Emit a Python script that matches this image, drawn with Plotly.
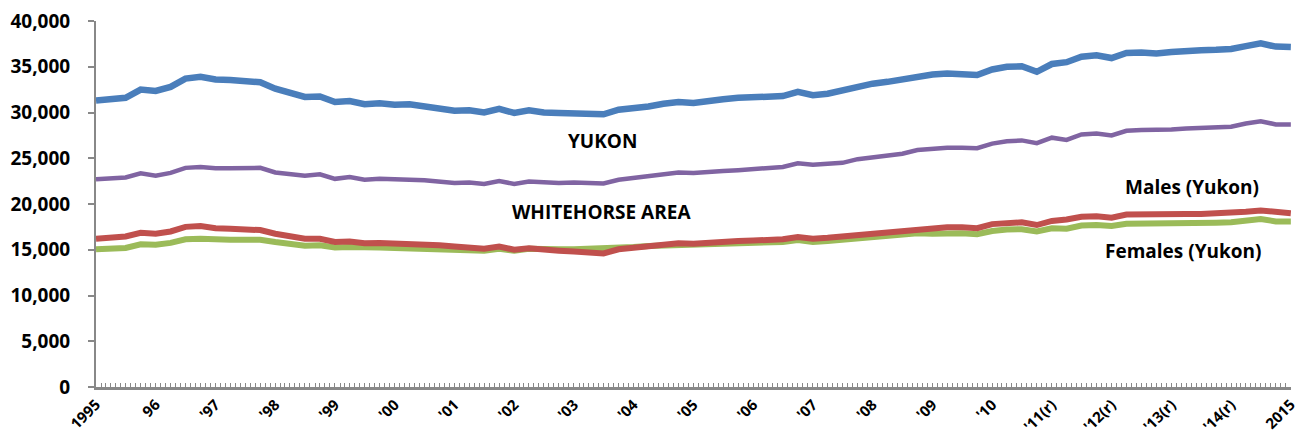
import plotly.graph_objects as go
import pandas as pd

# quarterly readings, Jan 1995 .. Jan 2015
dates = pd.date_range("1995-01-01", "2015-01-01", freq="QS")

yukon = [31300, 31500, 31600, 32500, 32350, 32800, 33700, 33900, 33600, 33550,
         33350, 33300, 32600, 32150, 31700, 31750, 31150, 31250, 30900, 31000,
         30850, 30900, 30650, 30450, 30200, 30250, 30000, 30400, 29950, 30250,
         30000, 29950, 29950, 29900, 29800, 30300, 30450, 30650, 30950, 31150,
         31050, 31300, 31450, 31600, 31650, 31700, 31800, 32250, 31900, 32050,
         32400, 32850, 33150, 33350, 33650, 34000, 34150, 34250, 34200, 34100,
         34700, 35000, 35050, 34450, 35300, 35500, 36100, 36250, 35950, 36500,
         36550, 36450, 36600, 36750, 36800, 36850, 36950, 37250, 37550, 37200,
         37150]

whitehorse = [22700, 22800, 22900, 23350, 23100, 23400, 23950, 24050, 23900, 23900,
              23950, 23950, 23450, 23250, 23100, 23250, 22750, 22950, 22650, 22750,
              22750, 22650, 22600, 22500, 22300, 22350, 22200, 22500, 22200, 22450,
              22350, 22300, 22350, 22350, 22250, 22650, 22850, 23000, 23300, 23450,
              23400, 23450, 23600, 23700, 23800, 23900, 24050, 24450, 24300, 24400,
              24500, 24900, 25100, 25250, 25500, 25900, 26050, 26150, 26150, 26100,
              26600, 26850, 26950, 26650, 27250, 27000, 27600, 27700, 27500, 28000,
              28100, 28100, 28150, 28250, 28350, 28400, 28450, 28800, 29050, 28700,
              28700]

males = [16200, 16350, 16450, 16850, 16750, 17000, 17500, 17600, 17350, 17300,
         17200, 17150, 16750, 16500, 16200, 16200, 15850, 15900, 15700, 15750,
         15700, 15750, 15600, 15500, 15350, 15300, 15100, 15350, 15000, 15150,
         14950, 14900, 14800, 14750, 14600, 15050, 15200, 15350, 15550, 15700,
         15650, 15800, 15900, 15950, 16000, 16050, 16150, 16400, 16200, 16300,
         16450, 16650, 16800, 16900, 17100, 17200, 17350, 17450, 17450, 17350,
         17800, 17950, 18000, 17700, 18150, 18300, 18600, 18650, 18500, 18850,
         18900, 18800, 18850, 18900, 18900, 18950, 19000, 19150, 19300, 19100,
         19000]

females = [15050, 15100, 15200, 15600, 15550, 15750, 16150, 16200, 16100, 16100,
           16100, 16100, 15850, 15600, 15450, 15500, 15250, 15300, 15200, 15250,
           15200, 15150, 15100, 15050, 14950, 15000, 14900, 15100, 14900, 15100,
           15000, 15050, 15050, 15100, 15050, 15250, 15300, 15400, 15450, 15500,
           15450, 15550, 15600, 15700, 15700, 15750, 15850, 16050, 15850, 15950,
           16100, 16250, 16350, 16400, 16600, 16800, 16750, 16800, 16800, 16700,
           17050, 17200, 17250, 17000, 17350, 17300, 17650, 17700, 17600, 17850,
           17850, 17800, 17850, 17900, 17950, 17950, 18000, 18200, 18350, 18100,
           18100]

year_labels = ["1995", "96", "'97", "'98", "'99", "'00", "'01", "'02", "'03", "'04",
               "'05", "'06", "'07", "'08", "'09", "'10", "'11(r)", "'12(r)", "'13(r)",
               "'14(r)", "2015"]
year_ticks = pd.date_range("1995-01-01", "2015-01-01", freq="YS")

FONT = "Open Sans"
AXIS_GREY = "#888888"

fig = go.Figure()
series = [
    ("Females (Yukon)", females, "#9BBB59", 6),
    ("Males (Yukon)", males, "#C0504D", 6),
    ("Whitehorse Area", whitehorse, "#8064A2", 4.5),
    ("Yukon", yukon, "#4A7EBB", 6.5),
]
for name, vals, col, w in series:
    fig.add_trace(go.Scatter(x=dates, y=vals, name=name, mode="lines",
                             line=dict(color=col, width=w), cliponaxis=False))

labels = [
    ("YUKON", 0.424, 0.672),
    ("WHITEHORSE AREA", 0.423, 0.478),
    ("Males (Yukon)", 0.917, 0.546),
    ("Females (Yukon)", 0.910, 0.372),
]
for txt, ax, ay in labels:
    fig.add_annotation(text=txt, x=ax, y=ay, xref="paper", yref="paper",
                       showarrow=False, xanchor="center", yanchor="middle",
                       font=dict(family=FONT, size=19, color="black", weight="bold"))

fig.update_layout(
    width=1297, height=436,
    margin=dict(l=96, r=6, t=21, b=49),
    plot_bgcolor="white", paper_bgcolor="white",
    showlegend=False,
    font=dict(family=FONT, color="black"),
)

# small pad past Jan 2015 so the last year label is not dropped
fig.update_xaxes(
    range=["1995-01-01", "2015-01-02"], automargin=False,
    tickvals=year_ticks, ticktext=year_labels, tickangle=-45,
    tickfont=dict(family=FONT, size=15, weight="bold"),
    ticklabeloverflow="allow",
    ticks="inside", ticklen=4, tickcolor=AXIS_GREY,
    minor=dict(dtick="M1", ticks="inside", ticklen=4, tickcolor=AXIS_GREY),
    showline=True, linecolor=AXIS_GREY, linewidth=3,
    showgrid=False, zeroline=False,
)
fig.update_yaxes(
    range=[0, 40000], dtick=5000, tickformat=",d", automargin=False,
    tickfont=dict(family=FONT, size=19, weight="bold"),
    ticks="outside", ticklen=6, tickcolor=AXIS_GREY, tickwidth=2,
    ticklabelstandoff=14,
    showline=True, linecolor=AXIS_GREY, linewidth=2,
    showgrid=False, zeroline=False,
)

# drop the default body margin so the figure sits at the page corner
fig.write_html("out.html", config={"displayModeBar": False},
               post_script="document.body.style.margin='0';document.body.style.overflow='hidden';")
